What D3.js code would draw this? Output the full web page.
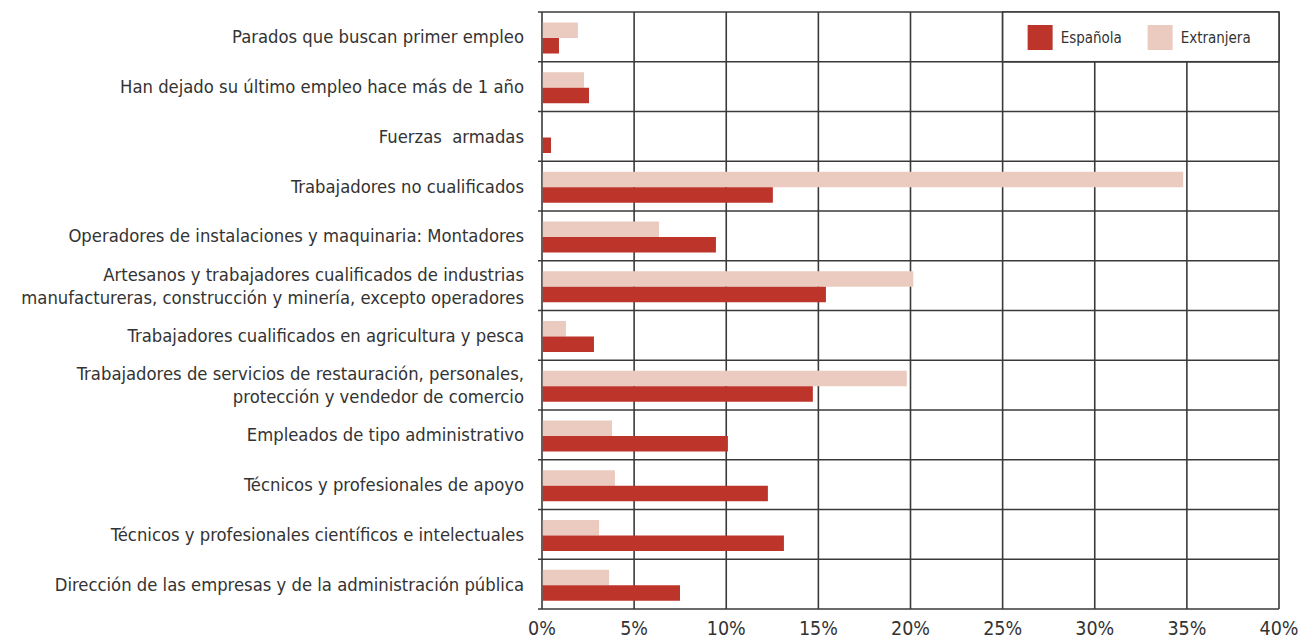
<!DOCTYPE html>
<html>
<head>
<meta charset="utf-8">
<script src="https://cdn.jsdelivr.net/npm/d3@7"></script>
<style>
  body { margin: 0; background: #fff; }
  svg { display: block; }
</style>
</head>
<body>
<svg id="chart" width="1299" height="639"></svg>
<script>
// categories, top to bottom ("|" marks a line break)
const categories = [
  'Parados que buscan primer empleo',
  'Han dejado su último empleo hace más de 1 año',
  'Fuerzas  armadas',
  'Trabajadores no cualificados',
  'Operadores de instalaciones y maquinaria: Montadores',
  'Artesanos y trabajadores cualificados de industrias|manufactureras, construcción y minería, excepto operadores',
  'Trabajadores cualificados en agricultura y pesca',
  'Trabajadores de servicios de restauración, personales,|protección y vendedor de comercio',
  'Empleados de tipo administrativo',
  'Técnicos y profesionales de apoyo',
  'Técnicos y profesionales científicos e intelectuales',
  'Dirección de las empresas y de la administración pública'
];
const series = ['Extranjera', 'Española'];
const extranjera = [1.95, 2.28, 0, 34.8, 6.35, 20.15, 1.3, 19.8, 3.8, 3.96, 3.1, 3.64];
const espanola = [0.92, 2.55, 0.49, 12.53, 9.44, 15.41, 2.82, 14.7, 10.09, 12.26, 13.13, 7.49];
const xTicks = [0, 5, 10, 15, 20, 25, 30, 35, 40];

const color = { Española: '#bd342b', Extranjera: '#ebcbbf' };
const font = '"DejaVu Sans Condensed", "DejaVu Sans", sans-serif';

const margin = { top: 12, left: 542 };
const width = 737;
const height = 597;

const svg = d3.select('#chart');
const g = svg.append('g').attr('transform', `translate(${margin.left}, ${margin.top})`);

const x = d3.scaleLinear().domain([0, 40]).range([0, width]);
const y = d3.scaleBand().domain(categories).range([0, height]);
const ySub = d3.scaleBand().domain(series).range([10.5, 41.5]);

const rows = categories.map((c, i) => ({ cat: c, Extranjera: extranjera[i], Española: espanola[i] }));

// grid lines
const grid = g.append('g').attr('class', 'grid').attr('stroke', '#3a3a3a').attr('stroke-width', 1.6);
grid.selectAll('line.v')
  .data(xTicks)
  .join('line')
  .attr('class', 'v')
  .attr('x1', (d) => x(d)).attr('x2', (d) => x(d))
  .attr('y1', 0).attr('y2', height);
grid.selectAll('line.h')
  .data(categories.concat(['_end']))
  .join('line')
  .attr('class', 'h')
  .attr('x1', -4).attr('x2', width)
  .attr('y1', (d, i) => (i < categories.length ? y(d) : height))
  .attr('y2', (d, i) => (i < categories.length ? y(d) : height));

// bars
const rowG = g.selectAll('g.row')
  .data(rows)
  .join('g')
  .attr('class', 'row')
  .attr('transform', (d) => `translate(0, ${y(d.cat)})`);

rowG.selectAll('rect')
  .data((d) => series.map((s) => ({ key: s, value: d[s] })))
  .join('rect')
  .attr('x', x(0) + 0.8)
  .attr('y', (d) => ySub(d.key))
  .attr('height', ySub.bandwidth())
  .attr('width', (d) => Math.max(0, x(d.value) - x(0) - 0.8))
  .attr('fill', (d) => color[d.key]);

// category labels
const labels = g.append('g').attr('class', 'labels')
  .attr('font-family', font)
  .attr('font-size', 18.3)
  .attr('fill', '#333')
  .attr('text-anchor', 'end');

labels.selectAll('text')
  .data(categories)
  .join('text')
  .attr('x', -18)
  .attr('y', (d) => y(d) + y.bandwidth() / 2)
  .each(function (d) {
    const parts = d.split('|');
    const t = d3.select(this);
    parts.forEach((p, i) => {
      t.append('tspan')
        .attr('x', -18)
        .attr('dy', i === 0 ? `${0.35 - (parts.length - 1) * 0.63}em` : '1.26em')
        .text(p.replace(/  /g, ' \u00a0')); // keep double spaces
    });
  });

// x axis labels
g.append('g').attr('class', 'xlabels')
  .attr('font-family', font)
  .attr('font-size', 19.5)
  .attr('fill', '#333')
  .attr('text-anchor', 'middle')
  .selectAll('text')
  .data(xTicks)
  .join('text')
  .attr('x', (d) => x(d))
  .attr('y', height + 26)
  .text((d) => `${d}%`);

// legend
const legend = g.append('g').attr('class', 'legend').attr('transform', `translate(${x(25)}, 0)`);
legend.append('rect')
  .attr('width', x(40) - x(25))
  .attr('height', y.bandwidth())
  .attr('fill', '#fff')
  .attr('stroke', '#3a3a3a')
  .attr('stroke-width', 1.6);
const item = legend.selectAll('g.item')
  .data(['Española', 'Extranjera'])
  .join('g')
  .attr('class', 'item')
  .attr('transform', (d, i) => `translate(${25 + i * 120}, 13)`);
item.append('rect').attr('width', 25).attr('height', 25).attr('fill', (d) => color[d]);
item.append('text')
  .attr('x', 33)
  .attr('y', 18)
  .attr('font-family', font)
  .attr('font-size', 15)
  .attr('fill', '#333')
  .text((d) => d);
</script>
</body>
</html>
